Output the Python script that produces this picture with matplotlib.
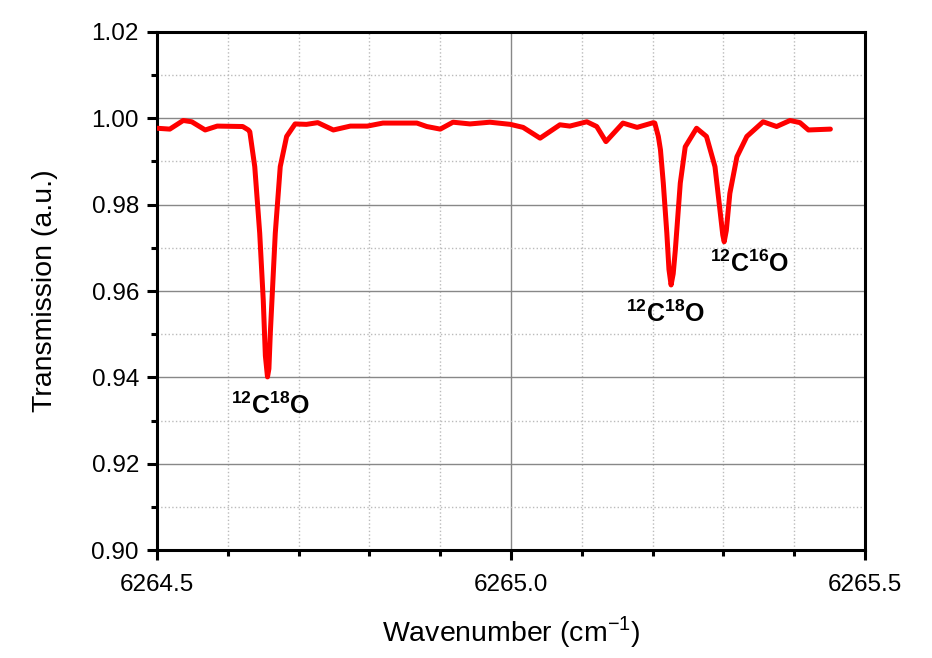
import matplotlib.pyplot as plt
from matplotlib.ticker import MultipleLocator

plt.rcParams['font.family'] = ['Liberation Sans', 'DejaVu Sans']
plt.rcParams['mathtext.fontset'] = 'custom'
plt.rcParams['mathtext.rm'] = 'Liberation Sans'
plt.rcParams['mathtext.bf'] = 'Liberation Sans:bold'

# wavenumber (cm^-1) and transmission
wavenumber = [
    6264.500, 6264.518, 6264.537, 6264.549, 6264.568, 6264.585, 6264.621,
    6264.629, 6264.631, 6264.638, 6264.645, 6264.650, 6264.653, 6264.656,
    6264.658, 6264.660, 6264.667, 6264.674, 6264.683, 6264.695, 6264.711,
    6264.727, 6264.749, 6264.773, 6264.797, 6264.819, 6264.867, 6264.881,
    6264.900, 6264.918, 6264.942, 6264.970, 6264.999, 6265.017, 6265.041,
    6265.069, 6265.083, 6265.107, 6265.121, 6265.134, 6265.158, 6265.178,
    6265.201, 6265.203, 6265.208, 6265.211, 6265.215, 6265.220, 6265.223,
    6265.226, 6265.229, 6265.232, 6265.239, 6265.246, 6265.262, 6265.276,
    6265.288, 6265.295, 6265.299, 6265.301, 6265.304, 6265.309, 6265.319,
    6265.333, 6265.356, 6265.375, 6265.394, 6265.408, 6265.420, 6265.451,
]
transmission = [
    0.9977, 0.9975, 0.9995, 0.9992, 0.9973, 0.9982, 0.9981,
    0.9973, 0.9969, 0.9888, 0.9734, 0.9579, 0.9450, 0.9401,
    0.9420, 0.9503, 0.9734, 0.9888, 0.9958, 0.9987, 0.9986,
    0.9990, 0.9973, 0.9982, 0.9982, 0.9989, 0.9989, 0.9981,
    0.9975, 0.9991, 0.9987, 0.9991, 0.9986, 0.9979, 0.9954,
    0.9985, 0.9982, 0.9992, 0.9981, 0.9946, 0.9989, 0.9979,
    0.9990, 0.9989, 0.9958, 0.9927, 0.9850, 0.9734, 0.9650,
    0.9614, 0.9640, 0.9695, 0.9850, 0.9934, 0.9977, 0.9958,
    0.9888, 0.9788, 0.9730, 0.9714, 0.9740, 0.9826, 0.9911,
    0.9958, 0.9992, 0.9981, 0.9995, 0.9990, 0.9973, 0.9975,
]

labels = [r'$\mathbf{^{12}C^{18}O}$', r'$\mathbf{^{12}C^{18}O}$',
          r'$\mathbf{^{12}C^{16}O}$']
label_x = [6264.660, 6265.219, 6265.337]
label_y = [0.9333, 0.9548, 0.9663]

fig = plt.figure(figsize=(9.32, 6.58), dpi=100)
ax = fig.add_axes([0.1685, 0.1641, 0.7597, 0.7873])

ax.plot(wavenumber, transmission, color='red', linewidth=3.6,
        solid_joinstyle='round', solid_capstyle='round', zorder=3)

for text, x, y in zip(labels, label_x, label_y):
    ax.text(x, y, text, fontsize=18, ha='center', va='center',
            color='black', zorder=4)

ax.set_xlim(6264.5, 6265.5)
ax.set_ylim(0.90, 1.02)
ax.xaxis.set_major_locator(MultipleLocator(0.5))
ax.xaxis.set_minor_locator(MultipleLocator(0.1))
ax.yaxis.set_major_locator(MultipleLocator(0.02))
ax.yaxis.set_minor_locator(MultipleLocator(0.01))
ax.xaxis.set_major_formatter(plt.FormatStrFormatter('%.1f'))
ax.yaxis.set_major_formatter(plt.FormatStrFormatter('%.2f'))

ax.grid(which='major', color='#888888', linestyle='-', linewidth=1.0)
ax.grid(which='minor', color='#bbbbbb', linestyle=':', linewidth=1.0)
ax.set_axisbelow(True)

for spine in ax.spines.values():
    spine.set_linewidth(2.2)
ax.tick_params(which='major', direction='out', length=7, width=2.2,
               labelsize=17.5, pad=6)
ax.tick_params(which='minor', direction='out', length=4, width=2.2)
ax.tick_params(axis='x', pad=10)

ax.set_xlabel(r'Wavenumber (cm$^{\mathregular{-1}}$)', fontsize=20.5,
              labelpad=13)
ax.set_ylabel('Transmission (a.u.)', fontsize=20.5, labelpad=24)

fig.savefig('out.png', dpi=100)
